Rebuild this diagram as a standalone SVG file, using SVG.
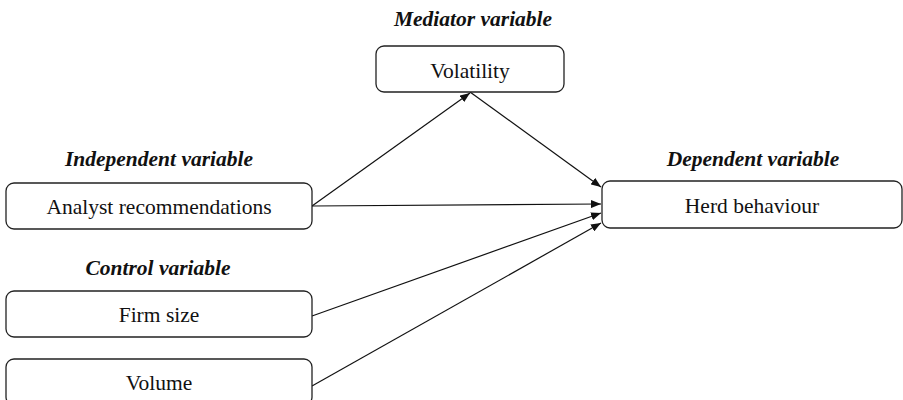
<svg xmlns="http://www.w3.org/2000/svg" width="903" height="400" viewBox="0 0 903 400">
<style>
.box{fill:#fff;stroke:#222;stroke-width:1.3}
.lbl{font-family:"Liberation Serif",serif;font-size:21.5px;fill:#111;text-anchor:middle}
.ttl{font-family:"Liberation Serif",serif;font-size:21.5px;font-weight:bold;font-style:italic;fill:#111;text-anchor:middle}
.edge{stroke:#111;stroke-width:1.2;fill:none;marker-end:url(#arr)}
</style>
<defs>
<marker id="arr" markerWidth="10" markerHeight="8" refX="10" refY="4" orient="auto" markerUnits="userSpaceOnUse">
<path d="M0,0 L10,4 L0,8 z" fill="#111"/>
</marker>
</defs>
<rect width="903" height="400" fill="#fff"/>
<g id="connectors">
<line class="edge" x1="312" y1="206" x2="470" y2="93"/>
<line class="edge" x1="470" y1="92" x2="601" y2="187"/>
<line class="edge" x1="312" y1="206" x2="601" y2="204"/>
<line class="edge" x1="312" y1="316" x2="601" y2="213"/>
<line class="edge" x1="312" y1="386" x2="601" y2="223"/>
</g>
<g id="mediator">
<text class="ttl" x="473" y="26">Mediator variable</text>
<rect class="box" x="376" y="46" width="188" height="46" rx="8"/>
<text class="lbl" x="470" y="78">Volatility</text>
</g>
<g id="independent">
<text class="ttl" x="159" y="166">Independent variable</text>
<rect class="box" x="6" y="183" width="306" height="46" rx="8"/>
<text class="lbl" x="159" y="214">Analyst recommendations</text>
</g>
<g id="control-title">
<text class="ttl" x="158" y="275">Control variable</text>
</g>
<g id="firmsize">
<rect class="box" x="6" y="291" width="306" height="46" rx="8"/>
<text class="lbl" x="159" y="322">Firm size</text>
</g>
<g id="volume">
<rect class="box" x="6" y="359" width="306" height="46" rx="8"/>
<text class="lbl" x="159" y="390">Volume</text>
</g>
<g id="dependent">
<text class="ttl" x="753" y="166">Dependent variable</text>
<rect class="box" x="602" y="181" width="300" height="47" rx="8"/>
<text class="lbl" x="752" y="213">Herd behaviour</text>
</g>
</svg>
